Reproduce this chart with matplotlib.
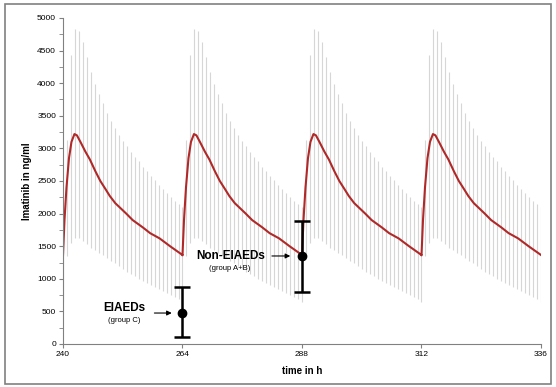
import numpy as np
import matplotlib
matplotlib.use("Agg")
import matplotlib.pyplot as plt
from matplotlib.patches import Rectangle

plt.rcParams['font.family'] = ['Liberation Sans', 'DejaVu Sans']

# dosing times (h), one dose every 24 h
doses = [240, 264, 288, 312]
t_end = 336

# mean imatinib concentration over one dosing interval
mean_t = [0, 0.3, 0.7, 1.2, 1.7, 2.3, 2.8, 3.5, 4.5, 5.4, 6.5, 7.5, 8.5, 9.4,
          10.5, 12.7, 14, 16, 17.5, 19.4, 21.5, 24]
mean_c = [1360, 1900, 2400, 2850, 3100, 3220, 3200, 3100, 2950, 2830, 2650, 2500,
          2380, 2270, 2160, 2000, 1900, 1790, 1700, 1620, 1500, 1365]

# range bars (min / max) over one dosing interval
bar_t = [0, 0.8, 1.6, 2.4, 3.2, 4.0, 4.8, 5.6, 6.4, 7.2, 8.0, 8.8, 9.6, 10.4, 11.2,
         12.0, 12.8, 13.6, 14.4, 15.2, 16.0, 16.8, 17.6, 18.4, 19.2, 20.0, 20.8,
         21.6, 22.4, 23.2]
bar_hi = [2100, 3130, 4430, 4830, 4800, 4630, 4400, 4170, 3990, 3830, 3690, 3540,
          3420, 3310, 3210, 3120, 3040, 2950, 2870, 2800, 2720, 2650, 2580, 2510,
          2440, 2380, 2320, 2260, 2200, 2150]
bar_lo = [650, 1350, 1550, 1620, 1620, 1580, 1530, 1480, 1440, 1400, 1360, 1320,
          1280, 1240, 1190, 1150, 1110, 1080, 1040, 1000, 970, 930, 900, 870, 840,
          810, 780, 750, 720, 690]

# measured trough levels
grp_x = [264, 288]
grp_mean = [480, 1350]
grp_lo = [110, 805]
grp_hi = [870, 1890]

fig = plt.figure(figsize=(5.56, 3.87), dpi=100)
fig.patches.append(Rectangle((5/556, 3/387), 546/556, 380/387, transform=fig.transFigure,
                             fill=False, edgecolor='#808080', linewidth=1.2))
ax = fig.add_axes([63/556, 1-344/387, 478/556, 326/387])

bt, bh, bl = [], [], []
mt, mc = [], []
for d in doses:
    bt += [d + x for x in bar_t]
    bh += bar_hi
    bl += bar_lo
    mt += [d + x for x in mean_t]
    mc += mean_c
bt.append(t_end)
bh.append(bar_hi[0])
bl.append(bar_lo[0])

ax.vlines(bt, bl, bh, colors='#d6d6d6', linewidth=0.8, zorder=1)
ax.plot(mt, mc, color='#b02828', linewidth=1.5, zorder=2)

yerr = [np.array(grp_mean) - np.array(grp_lo), np.array(grp_hi) - np.array(grp_mean)]
ax.errorbar(grp_x, grp_mean, yerr=yerr, fmt='o', color='black', markersize=6,
            elinewidth=1.8, capsize=6, capthick=1.8, zorder=3)

ax.text(252.3, 555, 'EIAEDs', ha='center', va='center', fontsize=8.5, fontweight='bold')
ax.text(252.3, 355, '(group C)', ha='center', va='center', fontsize=5.5)
ax.annotate('', xy=(262.4, 475), xytext=(257.8, 475),
            arrowprops=dict(arrowstyle='-|>', color='black', lw=0.8, mutation_scale=7))
ax.text(273.6, 1355, 'Non-EIAEDs', ha='center', va='center', fontsize=8.5, fontweight='bold')
ax.text(273.5, 1165, '(group A+B)', ha='center', va='center', fontsize=5.5)
ax.annotate('', xy=(286.2, 1350), xytext=(281.4, 1350),
            arrowprops=dict(arrowstyle='-|>', color='black', lw=0.8, mutation_scale=7))

ax.set_xlim(240, 336)
ax.set_ylim(0, 5000)
ax.set_xticks([240, 264, 288, 312, 336])
ax.set_yticks(range(0, 5001, 500))
ax.set_yticks(range(0, 5001, 250), minor=True)
for s in ['top', 'right']:
    ax.spines[s].set_visible(False)
for s in ['left', 'bottom']:
    ax.spines[s].set_color('#808080')
ax.tick_params(axis='both', labelsize=6, colors='#808080', labelcolor='black', length=3, pad=2)
ax.tick_params(axis='y', which='minor', colors='#808080', length=3)
ax.set_xlabel('time in h', fontsize=7, fontweight='bold', labelpad=6)
ax.set_ylabel('Imatinib in ng/ml', fontsize=7, fontweight='bold', labelpad=4)

fig.savefig('out.png', dpi=100)
